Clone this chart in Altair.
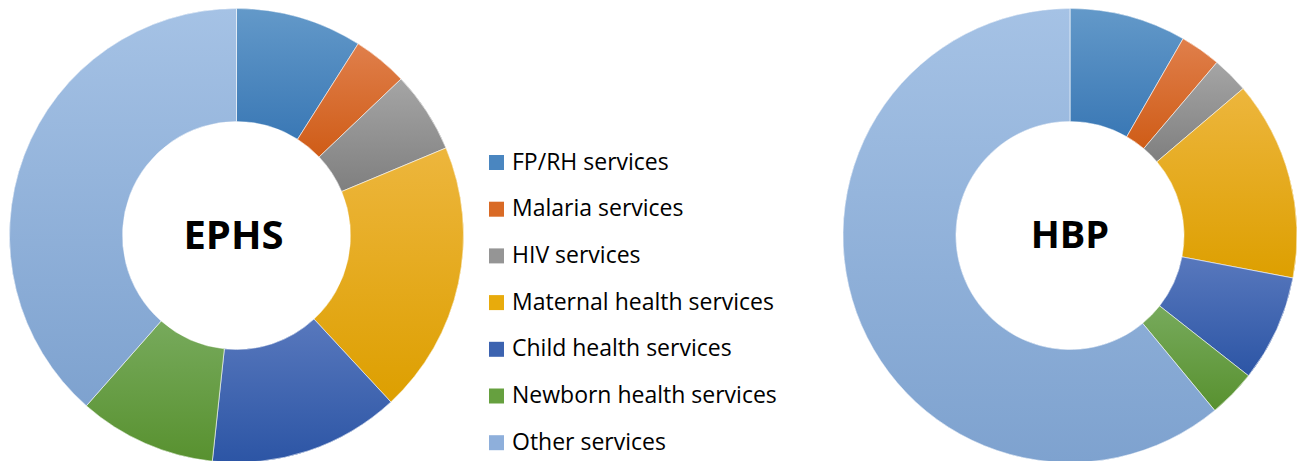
import math
import altair as alt
import pandas as pd

categories = ["FP/RH services", "Malaria services", "HIV services",
              "Maternal health services", "Child health services",
              "Newborn health services", "Other services"]
ephs_values = [9.0, 3.9, 5.8, 19.4, 13.6, 9.8, 38.5]
hbp_values = [8.3, 2.9, 2.6, 14.2, 7.6, 3.4, 61.0]
packages = ["EPHS", "HBP"]

colors = ["#4a86c0", "#d96a25", "#959595", "#e8ab0c", "#3c63b0", "#66a03f", "#8eafdb"]
top_colors = ["#6399c9", "#e07f4b", "#a5a5a5", "#edb63d", "#5878bd", "#77aa5c", "#a5c2e5"]
bottom_colors = ["#3a78b5", "#cf5c17", "#7f7f7f", "#dd9f00", "#2c55a5", "#58912f", "#7ea2cf"]

rows = []
for pkg, vals in zip(packages, [ephs_values, hbp_values]):
    for i, (c, v) in enumerate(zip(categories, vals)):
        rows.append({"package": pkg, "category": c, "idx": i, "value": v})
df = pd.DataFrame(rows)

centers = {"EPHS": (228.5, 227.5), "HBP": (1062, 227.5)}
R_OUT, R_IN = 227, 114

theta = alt.Theta("start:Q", scale=alt.Scale(domain=[0, 100], range=[0, 2 * math.pi]))
theta2 = alt.Theta2("end:Q")

legend = alt.Legend(
    title=None, orient="none", legendX=477, legendY=143,
    symbolType="square", symbolSize=225, symbolStrokeWidth=0,
    labelFont="Open Sans", labelFontSize=23, labelColor="black",
    labelLimit=400, labelOffset=4, rowPadding=22.7,
)


def base(pkg):
    return (alt.Chart(df)
            .transform_filter(alt.datum.package == pkg)
            .transform_window(end="sum(value)", frame=[None, 0],
                              sort=[alt.SortField("idx")])
            .transform_calculate(start="datum.end - datum.value"))


layers = []
for pkg in packages:
    cx, cy = centers[pkg]
    layers.append(
        base(pkg).mark_arc(innerRadius=R_IN, outerRadius=R_OUT).encode(
            theta=theta, theta2=theta2,
            color=alt.Color("category:N", scale=alt.Scale(domain=categories, range=colors),
                            legend=legend),
            x=alt.value(cx), y=alt.value(cy),
        )
    )
    for i, c in enumerate(categories):
        grad = alt.Gradient(
            gradient="linear", x1=0, y1=0, x2=0, y2=1,
            stops=[alt.GradientStop(color=top_colors[i], offset=0),
                   alt.GradientStop(color=bottom_colors[i], offset=1)],
        )
        layers.append(
            base(pkg).transform_filter(alt.datum.category == c)
            .mark_arc(innerRadius=R_IN, outerRadius=R_OUT, fill=grad,
                      stroke="white", strokeWidth=0.6)
            .encode(theta=theta, theta2=theta2, x=alt.value(cx), y=alt.value(cy))
        )
    layers.append(
        alt.Chart(pd.DataFrame({"package": [pkg]}))
        .mark_text(font="Open Sans", fontSize=40 if pkg == "EPHS" else 38,
                   fontWeight="bold", color="black",
                   align="center", baseline="middle")
        .encode(text="package:N", x=alt.value(cx - (3 if pkg == "EPHS" else 0)),
                y=alt.value(cy + 1))
    )

chart = (alt.layer(*layers)
         .properties(width=1290, height=453, padding=0,
                     autosize=alt.AutoSizeParams(type="none"))
         .configure_view(stroke=None))

chart.save("out.html", embed_options={"renderer": "svg", "actions": False})
